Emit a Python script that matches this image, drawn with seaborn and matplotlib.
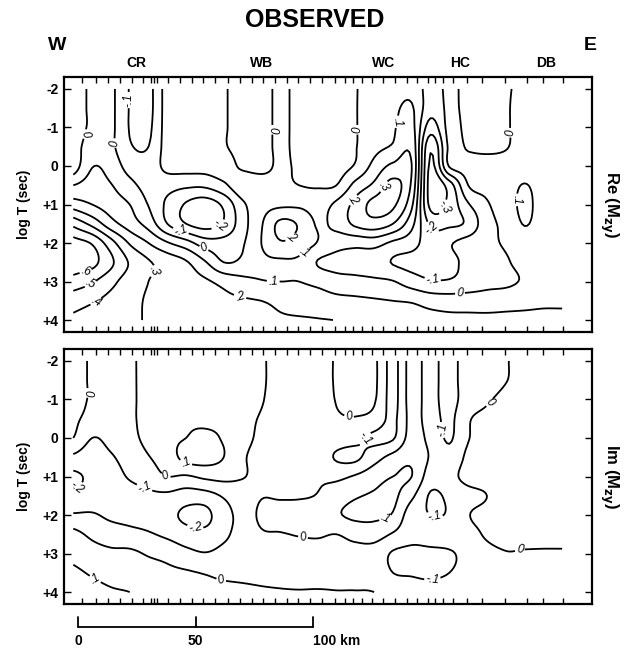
import numpy as np
import matplotlib
matplotlib.use("Agg")
import matplotlib.pyplot as plt
import seaborn as sns

# ---------------- data ----------------
distance_km = [-2, 6, 14, 22, 30, 38, 46, 54, 62, 70, 78, 86, 94, 102, 110,
               118, 126, 134, 142, 150, 158, 166, 174, 182, 190, 198, 206]
log_period = [-2.0, -1.5, -1.0, -0.5, 0.0, 0.5, 1.0, 1.5, 2.0, 2.5, 3.0, 3.5, 4.0]
contour_levels = [-0.3, -0.2, -0.1, 0.0, 0.1, 0.2, 0.3, 0.4, 0.5, 0.6]

# Re(Mzy): one row per log period, one value per distance node
re_mzy = [
    [-0.03, 0.01, 0.02, -0.105, -0.13, 0.04, 0.05, 0.04, 0.01, -0.04, -0.04, 0.02, -0.03, -0.05, -0.04, -0.005, 0.04, 0.06, 0.07, -0.04, 0.02, -0.03, -0.04, -0.01, 0.02, 0.03, 0.03],
    [-0.03, 0.01, 0.02, -0.105, -0.13, 0.04, 0.05, 0.04, 0.01, -0.04, -0.04, 0.02, -0.03, -0.05, -0.04, -0.005, 0.05, 0.08, 0.11, -0.06, 0.02, -0.03, -0.05, -0.01, 0.03, 0.03, 0.03],
    [-0.03, 0.01, 0.02, -0.105, -0.12, 0.04, 0.05, 0.04, 0.01, -0.04, -0.04, 0.02, -0.03, -0.05, -0.04, -0.005, 0.05, 0.09, 0.13, -0.15, 0.03, -0.03, -0.05, -0.01, 0.03, 0.03, 0.03],
    [-0.03, 0.03, 0.02, -0.09, -0.10, 0.04, 0.05, 0.04, 0.01, -0.04, -0.04, 0.02, -0.03, -0.05, -0.04, -0.005, 0.07, 0.11, 0.17, -0.28, 0.02, -0.01, -0.02, -0.005, 0.03, 0.04, 0.03],
    [-0.06, 0.095, 0.06, -0.04, -0.06, 0.03, 0.04, 0.04, 0.05, -0.02, -0.04, 0.02, -0.02, -0.05, -0.04, 0.01, 0.13, 0.22, 0.20, -0.32, 0.01, 0.03, 0.03, 0.03, 0.04, 0.04, 0.03],
    [0.10, 0.14, 0.105, 0.03, -0.04, -0.06, -0.08, -0.08, -0.02, 0.07, 0.06, 0.03, 0.0, -0.01, 0.0, 0.13, 0.22, 0.33, 0.18, -0.35, -0.25, 0.0, 0.03, 0.05, 0.105, 0.05, 0.03],
    [0.25, 0.20, 0.15, 0.10, -0.005, -0.12, -0.21, -0.25, -0.18, -0.02, 0.06, 0.08, 0.08, 0.06, 0.12, 0.23, 0.33, 0.32, 0.12, -0.33, -0.27, -0.11, -0.01, 0.04, 0.125, 0.05, 0.03],
    [0.47, 0.37, 0.24, 0.15, 0.06, -0.10, -0.20, -0.24, -0.19, -0.04, 0.09, 0.22, 0.19, 0.09, 0.13, 0.22, 0.26, 0.20, 0.03, -0.22, -0.22, -0.18, -0.03, 0.02, 0.105, 0.05, 0.03],
    [0.64, 0.59, 0.44, 0.29, 0.20, 0.11, 0.04, -0.05, -0.06, -0.01, 0.10, 0.19, 0.16, 0.095, 0.04, 0.03, 0.04, -0.02, -0.06, -0.15, -0.11, -0.06, -0.02, 0.01, 0.05, 0.05, 0.03],
    [0.66, 0.63, 0.52, 0.39, 0.31, 0.26, 0.21, 0.11, 0.0, 0.02, 0.08, 0.085, 0.08, -0.005, -0.03, -0.04, -0.06, -0.105, -0.13, -0.15, -0.13, -0.07, -0.04, -0.01, 0.03, 0.04, 0.03],
    [0.56, 0.51, 0.43, 0.35, 0.30, 0.27, 0.24, 0.215, 0.17, 0.13, 0.105, 0.10, 0.10, 0.075, 0.04, 0.03, 0.02, 0.005, -0.05, -0.09, -0.09, -0.06, -0.03, -0.02, 0.01, 0.03, 0.03],
    [0.44, 0.41, 0.37, 0.33, 0.29, 0.28, 0.26, 0.24, 0.22, 0.21, 0.20, 0.18, 0.16, 0.15, 0.13, 0.12, 0.11, 0.10, 0.09, 0.06, 0.05, 0.05, 0.05, 0.06, 0.07, 0.08, 0.08],
    [0.38, 0.36, 0.34, 0.32, 0.29, 0.27, 0.25, 0.24, 0.23, 0.22, 0.215, 0.21, 0.21, 0.205, 0.198, 0.18, 0.17, 0.16, 0.15, 0.14, 0.13, 0.13, 0.13, 0.13, 0.13, 0.13, 0.13],
]

# Im(Mzy): one column per distance node (values from short to long period)
im_mzy_by_site = [
    [0.03, 0.03, 0.03, 0.02, 0.0, -0.12, -0.22, -0.18, -0.09, 0.03, 0.07, 0.12, 0.15],
    [-0.01, -0.01, -0.01, -0.03, -0.10, -0.15, -0.18, -0.16, -0.09, -0.02, 0.04, 0.09, 0.13],
    [-0.04, -0.04, -0.04, -0.05, -0.07, -0.11, -0.14, -0.15, -0.12, -0.05, 0.02, 0.07, 0.11],
    [-0.02, -0.02, -0.02, -0.02, -0.03, -0.06, -0.09, -0.14, -0.13, -0.07, 0.02, 0.06, 0.10],
    [0.04, 0.04, 0.04, 0.04, 0.03, -0.005, -0.05, -0.12, -0.14, -0.09, -0.01, 0.04, 0.08],
    [0.05, 0.06, 0.07, 0.08, 0.08, 0.05, 0.0, -0.12, -0.17, -0.12, -0.03, 0.02, 0.05],
    [0.05, 0.06, 0.07, 0.09, 0.10, 0.13, -0.01, -0.15, -0.22, -0.16, -0.07, 0.01, 0.04],
    [0.05, 0.06, 0.07, 0.08, 0.12, 0.14, 0.02, -0.14, -0.23, -0.17, -0.095, -0.005, 0.03],
    [0.05, 0.05, 0.06, 0.07, 0.09, 0.10, 0.03, -0.09, -0.13, -0.12, -0.07, -0.02, 0.03],
    [0.03, 0.03, 0.03, 0.02, 0.02, 0.01, 0.005, -0.05, -0.07, -0.06, -0.04, -0.02, 0.02],
    [0.01, 0.01, 0.005, -0.005, -0.01, -0.015, -0.02, -0.005, 0.02, -0.01, -0.03, -0.02, 0.01],
    [-0.03, -0.03, -0.03, -0.03, -0.03, -0.03, -0.02, -0.01, 0.04, -0.005, -0.03, -0.02, 0.005],
    [-0.03, -0.03, -0.03, -0.03, -0.03, -0.03, -0.02, -0.01, 0.05, 0.005, -0.03, -0.02, 0.003],
    [-0.02, -0.02, -0.03, -0.03, -0.04, -0.04, -0.01, 0.005, 0.06, 0.01, -0.03, -0.025, 0.005],
    [0.005, 0.005, 0.003, -0.01, -0.05, -0.11, -0.02, 0.05, 0.09, 0.0, -0.03, -0.02, 0.002],
    [0.03, 0.03, 0.025, -0.005, -0.07, -0.12, 0.01, 0.09, 0.12, 0.03, -0.03, -0.02, 0.002],
    [0.02, 0.02, 0.01, -0.03, -0.12, -0.04, 0.06, 0.11, 0.12, 0.04, -0.04, -0.03, 0.0],
    [-0.13, -0.13, -0.13, -0.12, -0.11, 0.03, 0.10, 0.12, 0.09, -0.01, -0.11, -0.10, -0.02],
    [0.04, 0.04, 0.04, 0.03, 0.04, 0.08, 0.10, 0.02, -0.06, -0.07, -0.12, -0.11, -0.04],
    [-0.06, -0.06, -0.06, -0.05, -0.03, -0.01, -0.05, -0.11, -0.10, -0.06, -0.12, -0.12, -0.05],
    [-0.13, -0.13, -0.13, -0.12, -0.11, -0.07, -0.03, -0.08, -0.09, -0.05, -0.11, -0.10, -0.04],
    [-0.05, -0.05, -0.05, -0.01, -0.005, 0.02, 0.03, -0.03, -0.005, -0.03, -0.07, -0.06, -0.02],
    [-0.04, -0.04, -0.01, 0.02, 0.03, 0.03, 0.03, 0.0, 0.02, 0.01, -0.02, -0.02, -0.01],
    [-0.005, -0.003, 0.02, 0.03, 0.03, 0.03, 0.03, 0.03, 0.03, 0.02, -0.003, -0.02, -0.01],
    [0.02, 0.02, 0.03, 0.03, 0.03, 0.03, 0.03, 0.03, 0.03, 0.02, -0.005, -0.02, -0.01],
    [0.02, 0.02, 0.02, 0.02, 0.02, 0.02, 0.02, 0.02, 0.02, 0.015, -0.005, -0.02, -0.01],
    [0.02, 0.02, 0.02, 0.02, 0.02, 0.02, 0.02, 0.02, 0.02, 0.015, -0.005, -0.02, -0.01],
]

station_km = [1.7, 7.7, 12.8, 17.9, 23.0, 27.7, 31.1, 32.3, 33.6, 38.3, 43.4, 48.5,
              53.2, 58.3, 63.8, 68.9, 74.0, 78.7, 83.8, 88.9, 93.6, 98.7, 103.8,
              109.4, 113.6, 117.0, 120.9, 125.1, 129.8, 134.9, 140.0, 144.3, 148.9,
              151.9, 155.3, 159.6, 165.5, 171.9, 181.7, 191.1, 197.9, 206.4]
region_names = ["CR", "WB", "WC", "HC", "DB"]
region_km = [24.7, 78.3, 130.2, 162.6, 199.1]
ytick_values = [-2, -1, 0, 1, 2, 3, 4]
ytick_text = ["-2", "-1", "0", "+1", "+2", "+3", "+4"]
scale_km = [0, 50, 100]
scale_text = ["0", "50", "100 km"]

re_label_pos = [(4.3, -0.81), (17.0, -0.6), (25.1, -1.71), (82.1, -0.94), (118.7, -0.94),
                (138.3, -1.12), (183.0, -0.86), (2.1, 2.52), (5.1, 3.04), (8.1, 3.56),
                (30.6, 2.7), (44.3, 1.58), (60.4, 1.58), (53.2, 2.18), (88.9, 1.74),
                (95.7, 2.18), (83.0, 3.09), (68.9, 3.4), (117.0, 0.88), (130.6, 0.55),
                (155.3, 1.06), (151.0, 1.58), (151.0, 2.91), (162.6, 3.35), (189.4, 0.88)]
im_label_pos = [(5.1, -1.17), (0.5, 1.39), (28.5, 1.26), (37.9, 0.9), (46.4, 0.56),
                (50.6, 2.12), (8.5, 3.54), (61.3, 3.6), (95.7, 2.59), (115.3, -0.55),
                (123.0, 0.05), (154.0, -0.2), (175.3, -0.91), (129.8, 1.94),
                (151.9, 1.99), (150.6, 3.54), (188.0, 2.92)]


# ---------------- helpers ----------------
def cubic_upsample(arr, factor, axis):
    arr = np.moveaxis(np.asarray(arr, float), axis, 0)
    n = arr.shape[0]
    t = np.linspace(0, n - 1, (n - 1) * factor + 1)
    i = np.clip(np.floor(t).astype(int), 0, n - 2)
    u = (t - i).reshape((-1,) + (1,) * (arr.ndim - 1))
    p = np.concatenate([2 * arr[:1] - arr[1:2], arr, 2 * arr[-1:] - arr[-2:-1]], axis=0)
    fm, f0, f1, f2 = p[i], p[i + 1], p[i + 2], p[i + 3]
    out = (fm * (-u**3 + 2 * u**2 - u) + f0 * (3 * u**3 - 5 * u**2 + 2)
           + f1 * (-3 * u**3 + 4 * u**2 + u) + f2 * (u**3 - u**2)) / 2
    return np.moveaxis(out, 0, axis)


def fine_grid(z, fx=8, fy=8):
    z = cubic_upsample(z, fx, 1)
    z = cubic_upsample(z, fy, 0)
    x = cubic_upsample(np.array(distance_km, float), fx, 0)
    y = cubic_upsample(np.array(log_period, float), fy, 0)
    return x, y, z


def fmt(v):
    if abs(v) < 1e-6:
        return "0"
    s = f"{v:.1f}"
    return s.replace("0.", ".")


# ---------------- figure ----------------
sns.set_style("ticks")
plt.rcParams["font.family"] = ["Liberation Sans", "DejaVu Sans"]
plt.rcParams["font.weight"] = "bold"
plt.rcParams["text.color"] = "black"
plt.rcParams["axes.labelcolor"] = "black"
plt.rcParams["xtick.color"] = "black"
plt.rcParams["ytick.color"] = "black"
plt.rcParams["axes.edgecolor"] = "black"

fig = plt.figure(figsize=(6.30, 6.49), dpi=100)
ax_re = fig.add_axes([64 / 630, 1 - 332 / 649, 528 / 630, 255 / 649])
ax_im = fig.add_axes([64 / 630, 1 - 604 / 649, 528 / 630, 255 / 649])

levels = np.round(np.array(contour_levels), 2)
panels = [(ax_re, np.array(re_mzy), re_label_pos, "Re (M$_{\\mathbf{zy}}$)"),
          (ax_im, np.array(im_mzy_by_site).T, im_label_pos, "Im (M$_{\\mathbf{zy}}$)")]

for ax, z, lab_pos, side_label in panels:
    x, y, zz = fine_grid(z)
    cs = ax.contour(x, y, zz, levels=levels, colors="black", linewidths=1.3,
                    negative_linestyles="solid")
    ax.clabel(cs, inline=True, fmt=fmt, fontsize=8.5, manual=lab_pos, inline_spacing=2)
    for t in cs.labelTexts:
        t.set_fontstyle("italic")
        t.set_fontweight("normal")
        t.set_color("black")
    ax.set_xticks(station_km)
    ax.set_xticklabels([])
    ax.set_xlim(-5.96, 218.7)
    ax.set_ylim(4.31, -2.31)
    ax.tick_params(axis="x", which="both", direction="in", top=True, bottom=True,
                   length=4, width=1.0)
    ax.set_yticks(ytick_values)
    ax.set_yticklabels(ytick_text, fontsize=10, fontweight="bold")
    ax.tick_params(axis="y", direction="in", left=True, right=True, length=5, width=1.0, pad=4)
    for sp in ax.spines.values():
        sp.set_linewidth(1.6)
        sp.set_visible(True)
        sp.set_color("black")
    ax.set_ylabel("log T (sec)", fontsize=10, fontweight="bold", labelpad=8)
    ax.text(1.033, 0.5, side_label, transform=ax.transAxes, rotation=-90,
            ha="center", va="center", fontsize=12, fontweight="bold")

# Titles and region labels
fig.text(315 / 630, 1 - 20 / 649, "OBSERVED", ha="center", va="center",
         fontsize=18, fontweight="bold")
fig.text(57 / 630, 1 - 46 / 649, "W", ha="center", va="center", fontsize=14, fontweight="bold")
fig.text(590 / 630, 1 - 46 / 649, "E", ha="center", va="center", fontsize=14, fontweight="bold")
for name, km in zip(region_names, region_km):
    ax_re.text(km, 1.055, name, transform=ax_re.get_xaxis_transform(),
               ha="center", va="center", fontsize=10, fontweight="bold")

# Scale bar below the lower panel
trans = ax_im.get_xaxis_transform()
ax_im.plot([scale_km[0], scale_km[-1]], [-0.09, -0.09], color="black", lw=1.3,
           transform=trans, clip_on=False)
for km, lab in zip(scale_km, scale_text):
    ax_im.plot([km, km], [-0.09, -0.05], color="black", lw=1.3, transform=trans, clip_on=False)
    ax_im.text(km, -0.145, lab, transform=trans, ha="left" if lab.endswith("km") else "center",
               va="center", fontsize=10, fontweight="bold")

fig.savefig("out.png", dpi=100)
